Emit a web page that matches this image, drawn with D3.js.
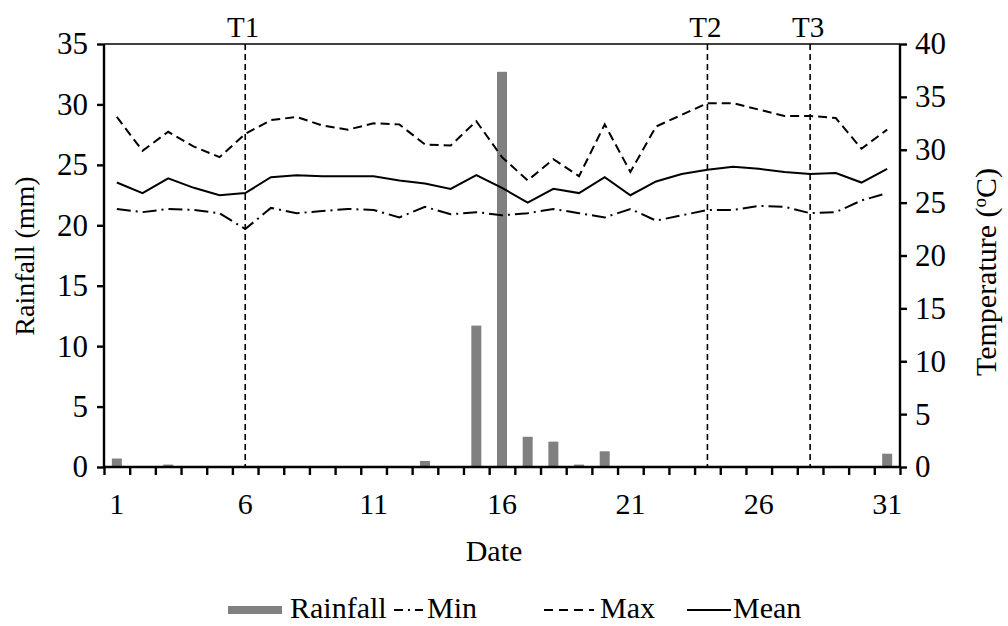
<!DOCTYPE html>
<html lang="en">
<head>
    <meta charset="UTF-8">
    <title>Rainfall and Temperature</title>
    <style>
        body {
            margin: 0;
            background: #fff;
        }
        svg text {
            font-family: "Liberation Serif", "Times New Roman", serif;
            fill: #000;
        }
    </style>
</head>
<body>
    <div id="chart"></div>
    <script src="https://d3js.org/d3.v7.min.js"></script>
    <script>
        const days = d3.range(1, 32);
        const rainfall = [0.7, 0, 0.2, 0, 0, 0, 0, 0, 0, 0, 0, 0, 0.5, 0, 11.7, 32.7,
            2.5, 2.1, 0.2, 1.3, 0, 0, 0, 0, 0, 0, 0, 0, 0, 0, 1.1];
        const tMax = [33.1, 29.9, 31.7, 30.3, 29.3, 31.5, 32.8, 33.1, 32.3, 31.9, 32.5, 32.4,
            30.5, 30.4, 32.7, 29.3, 27.1, 29.1, 27.5, 32.4, 27.9, 32.2, 33.3, 34.4, 34.4,
            33.8, 33.2, 33.2, 33.0, 30.1, 31.9];
        const tMean = [26.9, 25.9, 27.3, 26.4, 25.7, 25.9, 27.4, 27.6, 27.5, 27.5, 27.5, 27.1,
            26.8, 26.3, 27.6, 26.4, 25.0, 26.3, 25.9, 27.4, 25.7, 27.0, 27.7, 28.1, 28.4,
            28.2, 27.9, 27.7, 27.8, 26.9, 28.2];
        const tMin = [24.4, 24.1, 24.4, 24.3, 24.0, 22.5, 24.5, 24.0, 24.2, 24.4, 24.3, 23.6,
            24.6, 23.9, 24.1, 23.8, 24.0, 24.4, 24.0, 23.6, 24.4, 23.3, 23.8, 24.3, 24.3,
            24.7, 24.6, 24.0, 24.1, 25.2, 25.9];
        const xTickLabels = [1, 6, 11, 16, 21, 26, 31];
        const leftTicks = [0, 5, 10, 15, 20, 25, 30, 35];
        const rightTicks = [0, 5, 10, 15, 20, 25, 30, 35, 40];
        const markers = [{ day: 6, label: "T1" }, { day: 24, label: "T2" }, { day: 28, label: "T3" }];

        const width = 1008;
        const height = 626;
        const plotL = 104, plotR = 900, plotT = 44, plotB = 467;

        const svg = d3.select("#chart").append("svg")
            .attr("width", width)
            .attr("height", height);

        const x = d3.scaleLinear().domain([0.5, 31.5]).range([plotL, plotR]);
        const yRain = d3.scaleLinear().domain([0, 35]).range([plotB, plotT]);
        const yTemp = d3.scaleLinear().domain([0, 40]).range([plotB, plotT]);

        // rainfall bars
        const barW = 10;
        svg.append("g").selectAll("rect")
            .data(days.filter((d, i) => rainfall[i] > 0))
            .enter().append("rect")
            .attr("x", d => x(d) - barW / 2)
            .attr("width", barW)
            .attr("y", d => yRain(rainfall[d - 1]))
            .attr("height", d => plotB - yRain(rainfall[d - 1]))
            .attr("fill", "#808080");

        // treatment lines
        svg.append("g").selectAll("line")
            .data(markers)
            .enter().append("line")
            .attr("x1", d => x(d.day)).attr("x2", d => x(d.day))
            .attr("y1", plotT).attr("y2", plotB)
            .attr("stroke", "#000")
            .attr("stroke-width", 1.6)
            .attr("stroke-dasharray", "6,4");

        svg.append("g").selectAll("text")
            .data(markers)
            .enter().append("text")
            .attr("x", d => x(d.day) - 2)
            .attr("y", 37)
            .attr("text-anchor", "middle")
            .attr("font-size", 29)
            .text(d => d.label);

        // temperature lines
        const lineGen = vals => d3.line()
            .x((d, i) => x(days[i]))
            .y(d => yTemp(d))(vals);

        const series = [
            { values: tMin, dash: "14,5,2,5" },
            { values: tMax, dash: "9,5" },
            { values: tMean, dash: null }
        ];
        svg.append("g").selectAll("path")
            .data(series)
            .enter().append("path")
            .attr("d", d => lineGen(d.values))
            .attr("fill", "none")
            .attr("stroke", "#000")
            .attr("stroke-width", 2)
            .attr("stroke-dasharray", d => d.dash);

        // frame
        svg.append("line")
            .attr("x1", plotL).attr("x2", plotR)
            .attr("y1", plotT).attr("y2", plotT)
            .attr("stroke", "#000").attr("stroke-width", 1.6);

        // x axis: ticks at day boundaries, labels every 5 days
        const xAxis = svg.append("g").attr("transform", `translate(0,${plotB})`);
        xAxis.call(d3.axisBottom(x)
            .tickValues(d3.range(0.5, 32, 1))
            .tickSize(8)
            .tickFormat(""));
        xAxis.select(".domain").attr("d", `M${plotL},0H${plotR}`);
        xAxis.selectAll("line, path").attr("stroke", "#000").attr("stroke-width", 2.4);

        svg.append("g").selectAll("text")
            .data(xTickLabels)
            .enter().append("text")
            .attr("x", d => x(d))
            .attr("y", 514)
            .attr("text-anchor", "middle")
            .attr("font-size", 30)
            .text(d => d);

        // left axis
        const yl = svg.append("g").attr("transform", `translate(${plotL},0)`);
        yl.call(d3.axisLeft(yRain).tickValues(leftTicks).tickSize(7).tickPadding(9));
        yl.select(".domain").attr("d", `M0,${plotT}V${plotB}`);
        yl.selectAll("line, path").attr("stroke", "#000").attr("stroke-width", 2.4);
        yl.selectAll("text").attr("font-size", 31).attr("font-family", null);

        // right axis
        const yr = svg.append("g").attr("transform", `translate(${plotR},0)`);
        yr.call(d3.axisRight(yTemp).tickValues(rightTicks).tickSize(7).tickPadding(8));
        yr.select(".domain").attr("d", `M0,${plotT}V${plotB}`);
        yr.selectAll("line, path").attr("stroke", "#000").attr("stroke-width", 2.4);
        yr.selectAll("text").attr("font-size", 31).attr("font-family", null);

        // axis titles
        svg.append("text")
            .attr("transform", `translate(34,256) rotate(-90)`)
            .attr("text-anchor", "middle")
            .attr("font-size", 28)
            .text("Rainfall (mm)");

        const tt = svg.append("text")
            .attr("transform", `translate(996,272) rotate(-90)`)
            .attr("text-anchor", "middle")
            .attr("font-size", 30);
        tt.append("tspan").text("Temperature (");
        tt.append("tspan").attr("font-size", 19).attr("dy", -10).text("o");
        tt.append("tspan").attr("dy", 10).text("C)");

        svg.append("text")
            .attr("x", 494)
            .attr("y", 561)
            .attr("text-anchor", "middle")
            .attr("font-size", 30)
            .text("Date");

        // legend
        const legend = svg.append("g");
        const legY = 610;
        legend.append("rect")
            .attr("x", 228).attr("y", legY - 4)
            .attr("width", 54).attr("height", 8)
            .attr("fill", "#808080");
        legend.append("text").attr("x", 290).attr("y", 618).attr("font-size", 30).text("Rainfall");
        legend.append("line")
            .attr("x1", 394).attr("x2", 423).attr("y1", legY).attr("y2", legY)
            .attr("stroke", "#000").attr("stroke-width", 2).attr("stroke-dasharray", "9,5,2,5");
        legend.append("text").attr("x", 427).attr("y", 618).attr("font-size", 30).text("Min");
        legend.append("line")
            .attr("x1", 544).attr("x2", 594).attr("y1", legY).attr("y2", legY)
            .attr("stroke", "#000").attr("stroke-width", 2).attr("stroke-dasharray", "9,6");
        legend.append("text").attr("x", 600).attr("y", 618).attr("font-size", 30).text("Max");
        legend.append("line")
            .attr("x1", 687).attr("x2", 731).attr("y1", legY).attr("y2", legY)
            .attr("stroke", "#000").attr("stroke-width", 2);
        legend.append("text").attr("x", 733).attr("y", 618).attr("font-size", 30).text("Mean");
    </script>
</body>
</html>
